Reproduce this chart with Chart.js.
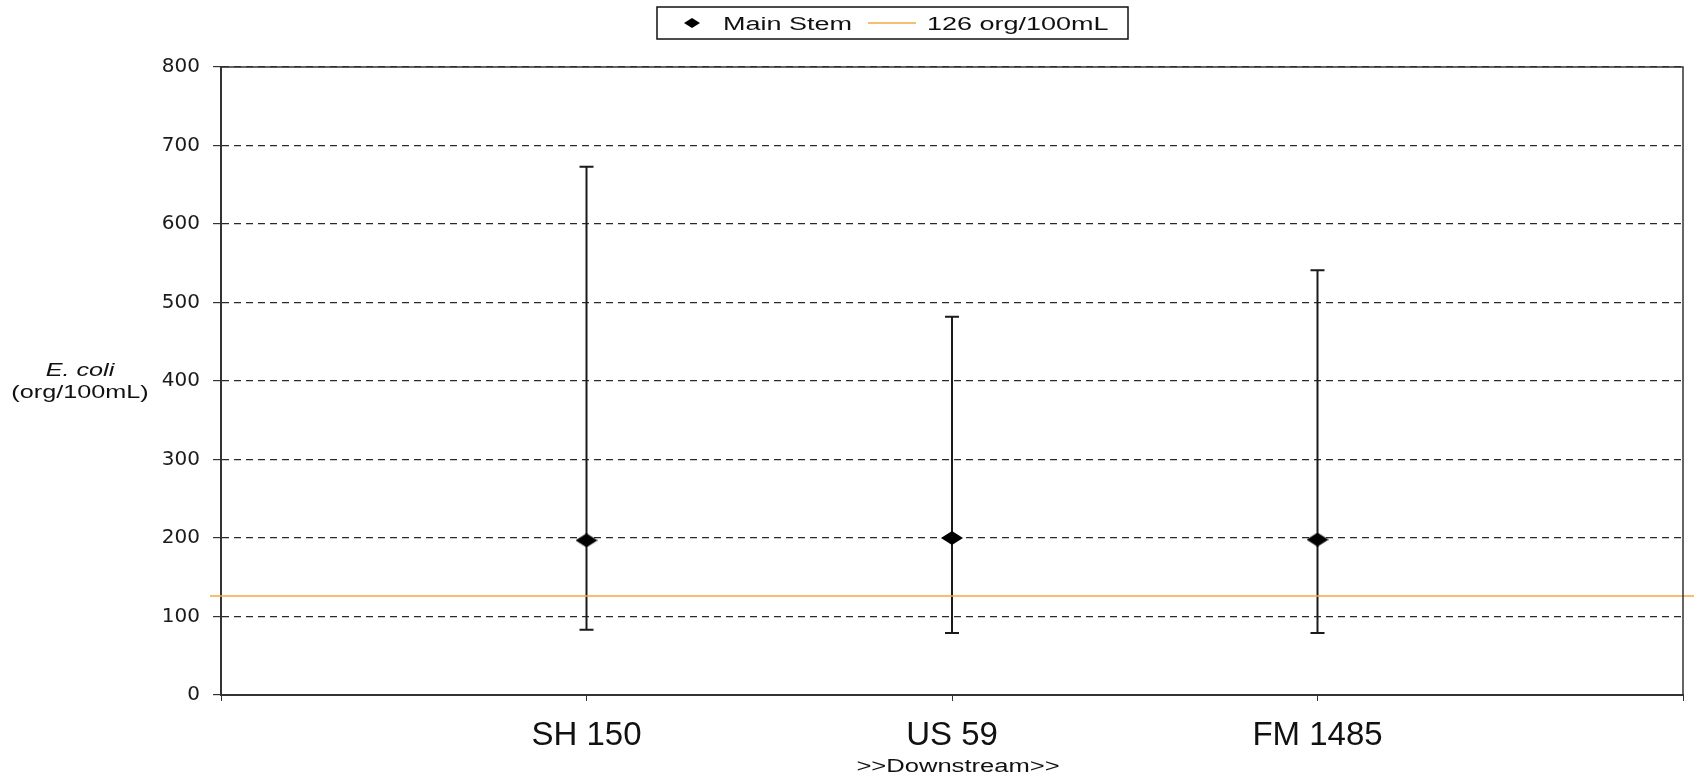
<!DOCTYPE html>
<html>
<head>
<meta charset="utf-8">
<script src="https://cdn.jsdelivr.net/npm/chart.js@4.4.0/dist/chart.umd.min.js"></script>
<style>
  html,body{margin:0;padding:0;background:#fff;overflow:hidden}
  #wrap{position:relative;width:1698px;height:773px}
</style>
</head>
<body>
<div id="wrap"><canvas id="chart" width="1698" height="773"></canvas></div>
<script>
/* DATA */
const sites    = ['SH 150', 'US 59', 'FM 1485'];
const sitePos  = [1, 2, 3];
const geoMean  = [197, 200, 198];
const upper    = [673, 482, 541];
const lower    = [83, 79, 79];
const standard = 126;
const stdSpan  = [-0.03, 4.03];   // line runs a bit past both axes
const yMax = 800, yStep = 100;

const ORANGE = '#f3a83c';
const INK = '#1a1a1a';

/* diamond marker, wider than tall like the original */
function diamond(w, h){
  const c = document.createElement('canvas');
  c.width = w; c.height = h;
  const g = c.getContext('2d');
  g.fillStyle = '#000';
  g.beginPath();
  g.moveTo(w/2, 0); g.lineTo(w, h/2); g.lineTo(w/2, h); g.lineTo(0, h/2);
  g.closePath(); g.fill();
  return c;
}

/* stretched text helper (source chart text is horizontally stretched) */
function wideText(ctx, str, x, y, sx, align){
  ctx.save();
  ctx.translate(x, y);
  ctx.scale(sx, 1);
  ctx.textAlign = align || 'left';
  ctx.textBaseline = 'alphabetic';
  ctx.fillText(str, 0, 0);
  ctx.restore();
}

/* error bars: drawn from the data through the scales */
const errorBars = {
  id: 'errorBars',
  beforeDatasetsDraw(chart){
    const {ctx, scales:{x, y}} = chart;
    ctx.save();
    ctx.strokeStyle = INK;
    ctx.lineWidth = 2;
    sitePos.forEach((p, i)=>{
      const px = x.getPixelForValue(p);
      const top = y.getPixelForValue(upper[i]);
      const bot = y.getPixelForValue(lower[i]);
      ctx.beginPath();
      ctx.moveTo(px, top); ctx.lineTo(px, bot);
      ctx.moveTo(px - 7, top); ctx.lineTo(px + 7, top);
      ctx.moveTo(px - 7, bot); ctx.lineTo(px + 7, bot);
      ctx.stroke();
    });
    ctx.restore();
  }
};

/* frame, legend, axis titles */
const decor = {
  id: 'decor',
  afterDraw(chart){
    const {ctx, chartArea:a} = chart;
    ctx.save();
    // top + right frame
    ctx.strokeStyle = '#333';
    ctx.lineWidth = 1.5;
    ctx.beginPath();
    ctx.moveTo(a.left, a.top); ctx.lineTo(a.right, a.top); ctx.lineTo(a.right, a.bottom);
    ctx.stroke();

    // legend box
    ctx.fillStyle = '#fff';
    ctx.fillRect(657, 7, 471, 32);
    ctx.strokeStyle = '#111';
    ctx.lineWidth = 1.5;
    ctx.strokeRect(657, 7, 471, 32);
    ctx.drawImage(diamond(16, 10), 684, 18);
    ctx.fillStyle = '#111';
    ctx.font = '18px "Liberation Sans", Arial, sans-serif';
    const ds = chart.data.datasets;
    wideText(ctx, ds[0].label, 723, 30, 1.5);
    ctx.strokeStyle = ORANGE;
    ctx.lineWidth = 1.5;
    ctx.beginPath(); ctx.moveTo(868, 23); ctx.lineTo(916, 23); ctx.stroke();
    wideText(ctx, ds[1].label, 927, 30, 1.5);

    // y title
    ctx.font = 'italic 18px "Liberation Sans", Arial, sans-serif';
    wideText(ctx, 'E. coli', 80, 376, 1.4, 'center');
    ctx.font = '18px "Liberation Sans", Arial, sans-serif';
    wideText(ctx, '(org/100mL)', 80, 398, 1.4, 'center');

    // x note
    wideText(ctx, '>>Downstream>>', 958, 772, 1.42, 'center');
    ctx.restore();
  }
};

new Chart(document.getElementById('chart'), {
  type: 'scatter',
  data: {
    datasets: [
      {
        label: 'Main Stem',
        data: sitePos.map((p, i)=> ({x: p, y: geoMean[i]})),
        pointStyle: diamond(22, 14),
        showLine: false,
        order: 1
      },
      {
        label: standard + ' org/100mL',
        data: stdSpan.map(v=> ({x: v, y: standard})),
        showLine: true,
        borderColor: ORANGE,
        borderWidth: 1.5,
        pointRadius: 0,
        clip: false,
        order: 2
      }
    ]
  },
  options: {
    responsive: false,
    animation: false,
    layout: {padding: {top: 67, right: 10, left: 0, bottom: 0}},
    plugins: {legend: {display: false}, tooltip: {enabled: false}},
    scales: {
      x: {
        type: 'linear', min: 0, max: 4,
        afterFit(s){ s.height = 78; },
        grid: {drawOnChartArea: false, drawTicks: true, tickLength: 6, tickColor: '#333', color: '#333'},
        border: {color: '#333', width: 2},
        ticks: {
          stepSize: 1, autoSkip: false, maxRotation: 0, padding: 15,
          color: '#111',
          font: {family: '"Liberation Sans", Arial, sans-serif', size: 33},
          callback: (v)=> { const i = sitePos.indexOf(v); return i >= 0 ? sites[i] : ''; }
        }
      },
      y: {
        min: 0, max: yMax,
        afterFit(s){ s.width = 221; },
        grid: {color: '#2a2a2a', lineWidth: 1.2, borderDash: [7, 5], tickLength: 8, tickColor: '#333', tickBorderDash: []},
        border: {color: '#333', width: 2, dash: [7, 5]},
        ticks: {
          stepSize: yStep, padding: 13, color: INK,
          font: {family: '"DejaVu Sans", sans-serif', size: 20}
        }
      }
    }
  },
  plugins: [errorBars, decor]
});
</script>
</body>
</html>
